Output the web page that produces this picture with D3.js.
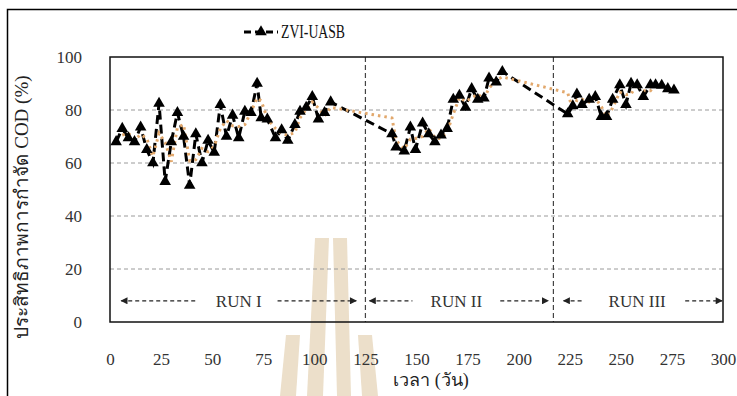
<!DOCTYPE html>
<html>
<head>
<meta charset="utf-8">
<script src="https://cdn.jsdelivr.net/npm/d3@7"></script>
<style>
  body { margin: 0; background: #fff; }
  svg text { font-family: "Liberation Serif", "Times New Roman", serif; }
</style>
</head>
<body>
<div id="chart"></div>
<script>
// days (x) and COD removal efficiency (%)
const days = [3, 6, 9, 12, 15, 18, 21, 24, 27, 30, 33, 36, 39, 42, 45, 48, 51, 54, 57, 60,
  63, 66, 69, 72, 74, 77, 81, 84, 87, 90.5, 93, 96, 99, 102, 105, 108,
  138, 140, 144, 147, 149.5, 153, 156, 159, 162, 165, 168, 171, 174, 177, 180, 183, 185.5, 189, 192,
  224, 226.5, 228.5, 231, 234.5, 237.5, 240.5, 243, 246, 249.5, 252.5, 255, 258, 261, 264.5, 267, 270, 273, 276];
const removal = [68, 73, 69.5, 68, 73.5, 65, 60, 82.5, 53, 68, 79, 70, 51.5, 71, 60, 68.5, 64, 82, 70, 78,
  69.5, 79.5, 79, 90, 77, 76.5, 69.5, 72.5, 68.5, 74.5, 79.5, 81, 85, 76.5, 79, 83,
  71, 66, 64.5, 73.5, 65, 75, 71, 68, 70.5, 73, 84, 85.5, 81, 88, 84, 84.5, 92, 90.5, 94.5,
  78.5, 81.5, 86, 82, 84, 85, 77.5, 77.5, 84, 89.5, 82, 90, 89.5, 85, 89.5, 89.5, 89.3, 88, 87.5];

const xTicks = [0, 25, 50, 75, 100, 125, 150, 175, 200, 225, 250, 275, 300];
const yTicks = [0, 20, 40, 60, 80, 100];
const runBreaks = [125, 217];
const runLabels = ['RUN I', 'RUN II', 'RUN III'];
const runTextAt = [63, 169.5, 258];
const runLeftArrow = [[5, 43], [126.5, 148], [221.5, 231]];
const runRightArrow = [[82, 121], [191, 215], [281.5, 300]];

const width = 737, height = 396;
const margin = { top: 57, right: 14, bottom: 74, left: 110 };

const svg = d3.select('#chart').append('svg')
  .attr('width', width)
  .attr('height', height);

const x = d3.scaleLinear().domain([0, 300]).range([margin.left, width - margin.right]);
const y = d3.scaleLinear().domain([0, 100]).range([height - margin.bottom, margin.top]);

// outer border of the figure
svg.append('rect')
  .attr('x', 7.5).attr('y', 9.5)
  .attr('width', 740).attr('height', 400)
  .attr('fill', 'none').attr('stroke', '#000').attr('stroke-width', 1.5);

// faint watermark behind the plot
const wm = svg.append('g').attr('fill', '#ecdfca');
[
  [[315, 238], [329, 238], [323, 396], [307, 396]],
  [[333, 238], [347, 238], [351, 396], [337, 396]],
  [[286, 335], [300, 335], [296, 396], [280, 396]],
  [[358, 335], [372, 335], [378, 396], [362, 396]]
].forEach(p => wm.append('polygon').attr('points', p.map(q => q.join(',')).join(' ')));

// horizontal gridlines
svg.append('g')
  .selectAll('line')
  .data(yTicks.filter(t => t > 0 && t < 100))
  .enter().append('line')
  .attr('x1', x(0)).attr('x2', x(300))
  .attr('y1', d => y(d)).attr('y2', d => y(d))
  .attr('stroke', '#9a9a9a').attr('stroke-width', 1)
  .attr('stroke-dasharray', '4,3');

// run boundaries
svg.append('g')
  .selectAll('line')
  .data(runBreaks)
  .enter().append('line')
  .attr('x1', d => x(d)).attr('x2', d => x(d))
  .attr('y1', y(100)).attr('y2', y(0))
  .attr('stroke', '#444').attr('stroke-width', 1.2)
  .attr('stroke-dasharray', '5,3');

// plot frame
svg.append('rect')
  .attr('x', x(0)).attr('y', y(100))
  .attr('width', x(300) - x(0)).attr('height', y(0) - y(100))
  .attr('fill', 'none').attr('stroke', '#111').attr('stroke-width', 1.5);

// arrow heads
const defs = svg.append('defs');
defs.append('marker')
  .attr('id', 'head').attr('viewBox', '0 0 10 10')
  .attr('refX', 9).attr('refY', 5)
  .attr('markerWidth', 9).attr('markerHeight', 7)
  .attr('markerUnits', 'userSpaceOnUse')
  .attr('orient', 'auto-start-reverse')
  .append('path').attr('d', 'M0,0 L10,5 L0,10 Z').attr('fill', '#222');

// run annotations
const runY = y(8);
const runs = svg.append('g');
runLeftArrow.forEach(r => {
  runs.append('line')
    .attr('x1', x(r[0]) + 1).attr('x2', x(r[1])).attr('y1', runY).attr('y2', runY)
    .attr('stroke', '#222').attr('stroke-width', 1.2).attr('stroke-dasharray', '4,3')
    .attr('marker-start', 'url(#head)');
});
runRightArrow.forEach(r => {
  runs.append('line')
    .attr('x1', x(r[0])).attr('x2', x(r[1]) - 1).attr('y1', runY).attr('y2', runY)
    .attr('stroke', '#222').attr('stroke-width', 1.2).attr('stroke-dasharray', '4,3')
    .attr('marker-end', 'url(#head)');
});
runs.selectAll('text')
  .data(runLabels)
  .enter().append('text')
  .attr('x', (d, i) => x(runTextAt[i]))
  .attr('y', runY)
  .attr('dy', '0.35em')
  .attr('text-anchor', 'middle')
  .attr('font-size', 17)
  .attr('fill', '#333')
  .text(d => d);

// axes (labels only)
const xAxis = svg.append('g')
  .attr('transform', `translate(0,${y(0)})`)
  .call(d3.axisBottom(x).tickValues(xTicks).tickSize(0).tickPadding(31));
const yAxis = svg.append('g')
  .attr('transform', `translate(${x(0)},0)`)
  .call(d3.axisLeft(y).tickValues(yTicks).tickSize(0).tickPadding(28));
[xAxis, yAxis].forEach(a => {
  a.select('.domain').remove();
  a.selectAll('text')
    .attr('font-size', 17)
    .attr('fill', '#333')
    .attr('font-family', '"Liberation Serif", serif');
});

// axis titles
svg.append('text')
  .attr('x', 431).attr('y', 386)
  .attr('text-anchor', 'middle')
  .attr('font-size', 18)
  .attr('fill', '#222')
  .text('เวลา (วัน)');

svg.append('text')
  .attr('transform', `translate(28,${207}) rotate(-90)`)
  .attr('text-anchor', 'middle')
  .attr('font-size', 19)
  .attr('fill', '#222')
  .text('ประสิทธิภาพการกำจัด COD (%)');

// data
const pts = days.map((d, i) => ({ day: d, value: removal[i] }));

// 2-period moving average trendline
const ma = pts.slice(1).map((p, i) => ({ day: p.day, value: (pts[i].value + p.value) / 2 }));

const line = d3.line().x(d => x(d.day)).y(d => y(d.value));

svg.append('path')
  .datum(pts)
  .attr('d', line)
  .attr('fill', 'none')
  .attr('stroke', '#000')
  .attr('stroke-width', 3)
  .attr('stroke-dasharray', '9,5');

svg.append('path')
  .datum(ma)
  .attr('d', line)
  .attr('fill', 'none')
  .attr('stroke', '#e2a86c')
  .attr('stroke-width', 3)
  .attr('stroke-dasharray', '2.5,4');

svg.append('g')
  .selectAll('path')
  .data(pts)
  .enter().append('path')
  .attr('d', d3.symbol(d3.symbolTriangle).size(58))
  .attr('transform', d => `translate(${x(d.day)},${y(d.value)})`)
  .attr('fill', '#000');

// legend
const lg = svg.append('g').attr('transform', 'translate(244,32)');
lg.append('line')
  .attr('x1', 0).attr('x2', 34).attr('y1', 0).attr('y2', 0)
  .attr('stroke', '#000').attr('stroke-width', 3).attr('stroke-dasharray', '7,4');
lg.append('path')
  .attr('d', d3.symbol(d3.symbolTriangle).size(58))
  .attr('transform', 'translate(17,0)');
lg.append('text')
  .attr('x', 37).attr('y', 0).attr('dy', '0.35em')
  .attr('font-size', 18)
  .attr('textLength', 64)
  .attr('lengthAdjust', 'spacingAndGlyphs')
  .attr('fill', '#111')
  .text('ZVI-UASB');
</script>
</body>
</html>
